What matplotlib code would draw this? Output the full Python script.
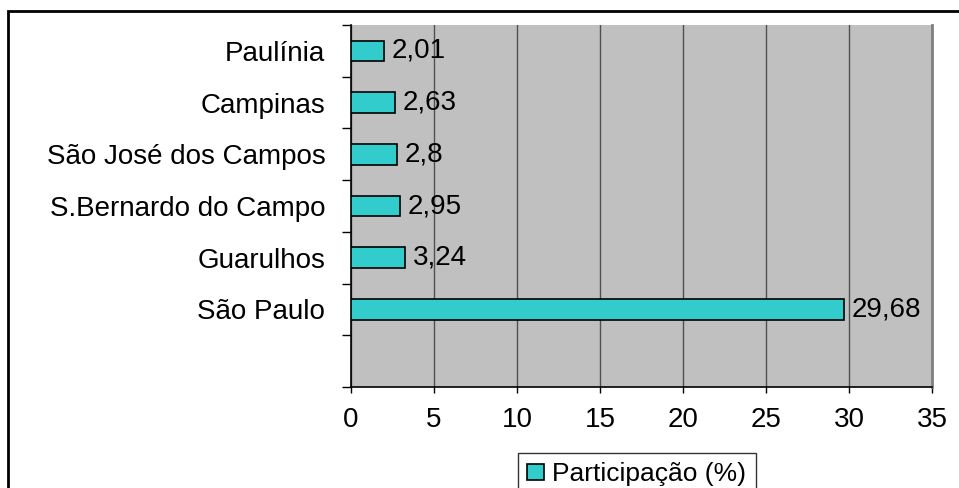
import matplotlib.pyplot as plt
from matplotlib.patches import Rectangle

# dados do gráfico (de baixo para cima)
cidades = ["São Paulo", "Guarulhos", "S.Bernardo do Campo",
           "São José dos Campos", "Campinas", "Paulínia"]
participacao = [29.68, 3.24, 2.95, 2.8, 2.63, 2.01]
rotulos = ["29,68", "3,24", "2,95", "2,8", "2,63", "2,01"]
x_ticks = [0, 5, 10, 15, 20, 25, 30, 35]

plt.rcParams['font.family'] = ['Liberation Sans', 'DejaVu Sans']
FS = 20

fig = plt.figure(figsize=(9.59, 4.88), dpi=100)
W, H = 959, 488
ax = fig.add_axes([351 / W, 1 - 387 / H, (932 - 351) / W, (387 - 25) / H])
ax.set_facecolor("#c0c0c0")

pos = list(range(1, len(cidades) + 1))
ax.barh(pos, participacao, height=0.4, color="#33cccc",
        edgecolor="black", linewidth=1.2, zorder=3,
        label="Participação (%)")
for y, v, s in zip(pos, participacao, rotulos):
    ax.annotate(s, (v, y), xytext=(5.5, 0), textcoords="offset points",
                va="center", ha="left", fontsize=FS, zorder=4)

ax.set_xlim(0, 35)
ax.set_ylim(-0.5, 6.5)
ax.set_xticks(x_ticks)
ax.set_xticklabels([str(t) for t in x_ticks], fontsize=FS)
ax.set_yticks(pos)
ax.set_yticklabels(cidades, fontsize=FS)
ax.tick_params(axis="y", length=0, pad=18.5)
ax.set_yticks([i - 0.5 for i in range(8)], minor=True)
ax.tick_params(axis="y", which="minor", length=6.5, width=1)
ax.tick_params(axis="x", length=4.5, width=1, pad=10)

ax.grid(axis="x", color="#505050", linewidth=1, zorder=1)
ax.spines["top"].set_visible(False)
ax.spines["right"].set_color("#808080")
ax.spines["right"].set_linewidth(2)
ax.spines["left"].set_linewidth(1.2)
ax.spines["bottom"].set_linewidth(1.2)

leg = fig.legend(loc="upper left", bbox_to_anchor=(518 / W, 1 - 453 / H),
                 fontsize=19, frameon=True, fancybox=False,
                 handlelength=0.65, handleheight=0.6, handletextpad=0.3,
                 borderpad=0.35, borderaxespad=0)
leg.get_frame().set_edgecolor("black")
leg.get_frame().set_linewidth(1)

# moldura externa
fig.patches.append(Rectangle((8 / W, -0.05), 1.0, 1 - 11 / H + 0.05,
                             transform=fig.transFigure, fill=False,
                             edgecolor="black", linewidth=2))

fig.savefig("out.png", dpi=100)
